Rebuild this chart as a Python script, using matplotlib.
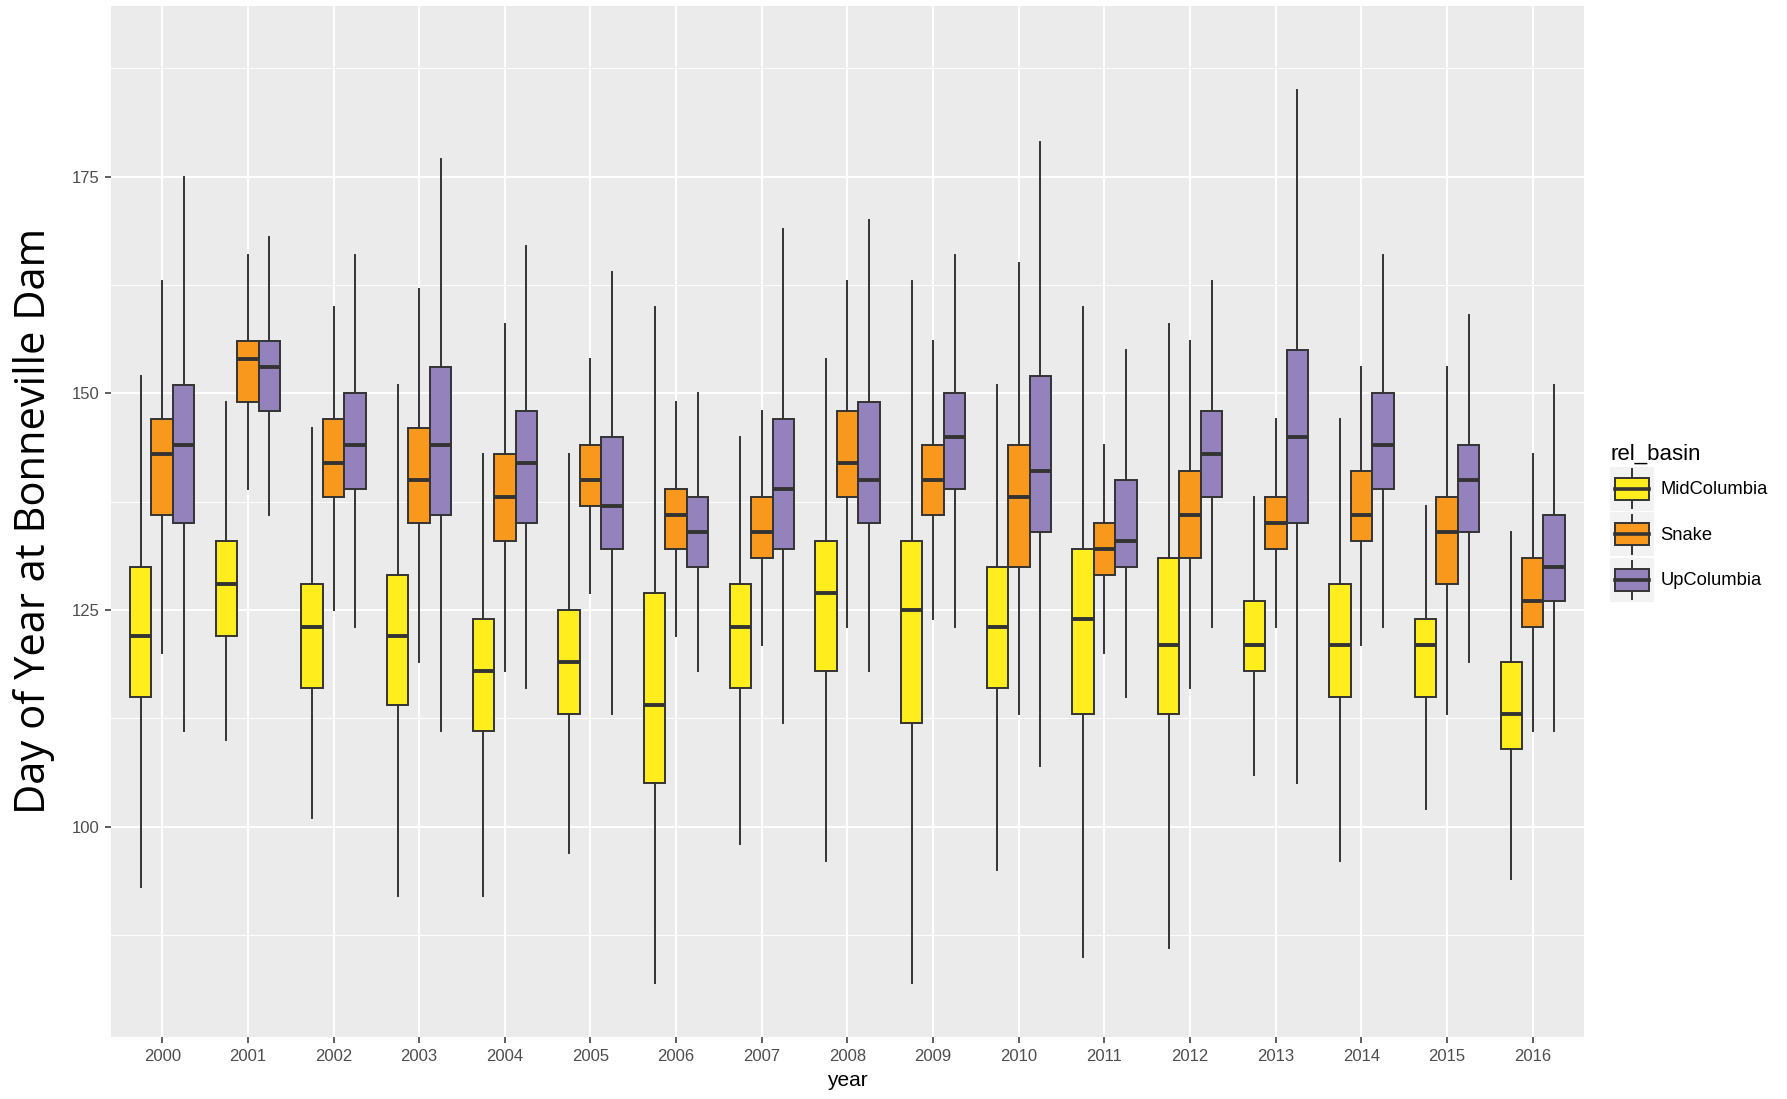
import matplotlib
matplotlib.use("Agg")
import matplotlib.pyplot as plt
from matplotlib.patches import Patch, Rectangle
from matplotlib.lines import Line2D
from matplotlib.legend_handler import HandlerBase

years = [str(y) for y in range(2000, 2017)]
basins = ["MidColumbia", "Snake", "UpColumbia"]
colors = ["#FFED1E", "#F8991D", "#9382BC"]

# whisker high, upper hinge, median, lower hinge, whisker low
mid_hi  = [152, 149, 146, 151, 143, 143, 160, 145, 154, 163, 151, 160, 158, 138, 147, 137, 134]
mid_q3  = [130, 133, 128, 129, 124, 125, 127, 128, 133, 133, 130, 132, 131, 126, 128, 124, 119]
mid_med = [122, 128, 123, 122, 118, 119, 114, 123, 127, 125, 123, 124, 121, 121, 121, 121, 113]
mid_q1  = [115, 122, 116, 114, 111, 113, 105, 116, 118, 112, 116, 113, 113, 118, 115, 115, 109]
mid_lo  = [93, 110, 101, 92, 92, 97, 82, 98, 96, 82, 95, 85, 86, 106, 96, 102, 94]

snk_hi  = [163, 166, 160, 162, 158, 154, 149, 148, 163, 156, 165, 144, 156, 147, 153, 153, 143]
snk_q3  = [147, 156, 147, 146, 143, 144, 139, 138, 148, 144, 144, 135, 141, 138, 141, 138, 131]
snk_med = [143, 154, 142, 140, 138, 140, 136, 134, 142, 140, 138, 132, 136, 135, 136, 134, 126]
snk_q1  = [136, 149, 138, 135, 133, 137, 132, 131, 138, 136, 130, 129, 131, 132, 133, 128, 123]
snk_lo  = [120, 139, 125, 119, 118, 127, 122, 121, 123, 124, 113, 120, 116, 123, 121, 113, 111]

up_hi  = [175, 168, 166, 177, 167, 164, 150, 169, 170, 166, 179, 155, 163, 185, 166, 159, 151]
up_q3  = [151, 156, 150, 153, 148, 145, 138, 147, 149, 150, 152, 140, 148, 155, 150, 144, 136]
up_med = [144, 153, 144, 144, 142, 137, 134, 139, 140, 145, 141, 133, 143, 145, 144, 140, 130]
up_q1  = [135, 148, 139, 136, 135, 132, 130, 132, 135, 139, 134, 130, 138, 135, 139, 134, 126]
up_lo  = [111, 136, 123, 111, 116, 113, 118, 112, 118, 123, 107, 115, 123, 105, 123, 119, 111]

series = [
    (mid_hi, mid_q3, mid_med, mid_q1, mid_lo),
    (snk_hi, snk_q3, snk_med, snk_q1, snk_lo),
    (up_hi, up_q3, up_med, up_q1, up_lo),
]

edge = "#333333"
lw = 1.4

fig = plt.figure(figsize=(17.87, 10.99), dpi=100)
ax = fig.add_axes([0.062, 0.056, 0.8245, 0.9388])
ax.set_facecolor("#EBEBEB")

offsets = [-0.25, 0, 0.25]
for k, (hi, q3, med, q1, lo) in enumerate(series):
    stats = []
    for i in range(len(years)):
        stats.append({"whishi": hi[i], "q3": q3[i], "med": med[i],
                      "q1": q1[i], "whislo": lo[i], "fliers": []})
    pos = [i + offsets[k] for i in range(len(years))]
    ax.bxp(stats, positions=pos, widths=0.25, patch_artist=True,
           showfliers=False, showcaps=False, manage_ticks=False,
           boxprops=dict(facecolor=colors[k], edgecolor=edge, linewidth=lw),
           medianprops=dict(color=edge, linewidth=2.8, solid_capstyle="butt"),
           whiskerprops=dict(color=edge, linewidth=lw))

ax.set_xlim(-0.6, 16.6)
ax.set_ylim(75.7, 194.7)
ax.set_xticks(range(len(years)))
ax.set_xticklabels(years)
ax.set_yticks([100, 125, 150, 175])
ax.set_yticks([87.5, 112.5, 137.5, 162.5, 187.5], minor=True)
ax.set_axisbelow(True)
ax.grid(True, which="major", color="white", linewidth=1.4)
ax.grid(True, which="minor", axis="y", color="white", linewidth=0.7)
for s in ax.spines.values():
    s.set_visible(False)
ax.tick_params(axis="both", which="major", length=4, width=1.1, color=edge,
               labelcolor="#4D4D4D", labelsize=12, pad=4)
ax.tick_params(axis="both", which="minor", length=0)
for lab in ax.get_xticklabels() + ax.get_yticklabels():
    lab.set_family("Liberation Sans")

ax.set_xlabel("year", fontsize=15, family="Liberation Sans", labelpad=5)
fig.text(0.019, 0.526, "Day of Year at Bonneville Dam", rotation=90,
         ha="center", va="center", fontsize=30, family="Open Sans")


class BoxKey(HandlerBase):
    def create_artists(self, legend, orig_handle, xdescent, ydescent,
                       width, height, fontsize, trans):
        x0, y0 = -xdescent, -ydescent
        bg = Rectangle((x0, y0), width, height, facecolor="#F2F2F2",
                       edgecolor="none", transform=trans)
        bx = Rectangle((x0 + 0.12 * width, y0 + 0.25 * height), 0.76 * width,
                       0.5 * height, facecolor=orig_handle.get_facecolor(),
                       edgecolor=edge, linewidth=lw, transform=trans)
        md = Line2D([x0 + 0.12 * width, x0 + 0.88 * width],
                    [y0 + 0.5 * height] * 2, color=edge, linewidth=2.6,
                    transform=trans)
        w1 = Line2D([x0 + 0.5 * width] * 2, [y0 + 0.06 * height, y0 + 0.25 * height],
                    color=edge, linewidth=lw, transform=trans)
        w2 = Line2D([x0 + 0.5 * width] * 2, [y0 + 0.75 * height, y0 + 0.94 * height],
                    color=edge, linewidth=lw, transform=trans)
        return [bg, w1, w2, bx, md]


handles = [Patch(facecolor=c) for c in colors]
leg = fig.legend(handles, basins, title="rel_basin", loc="upper left",
                 bbox_to_anchor=(0.901, 0.596), frameon=False,
                 handler_map={Patch: BoxKey()}, handlelength=2.4,
                 handleheight=3.3, labelspacing=0.1, handletextpad=0.35,
                 borderpad=0, borderaxespad=0, alignment="left",
                 prop={"family": "Liberation Sans", "size": 13.2})
leg.get_title().set_fontsize(16)
leg.get_title().set_family("Liberation Sans")

plt.savefig("out.png", dpi=100)
